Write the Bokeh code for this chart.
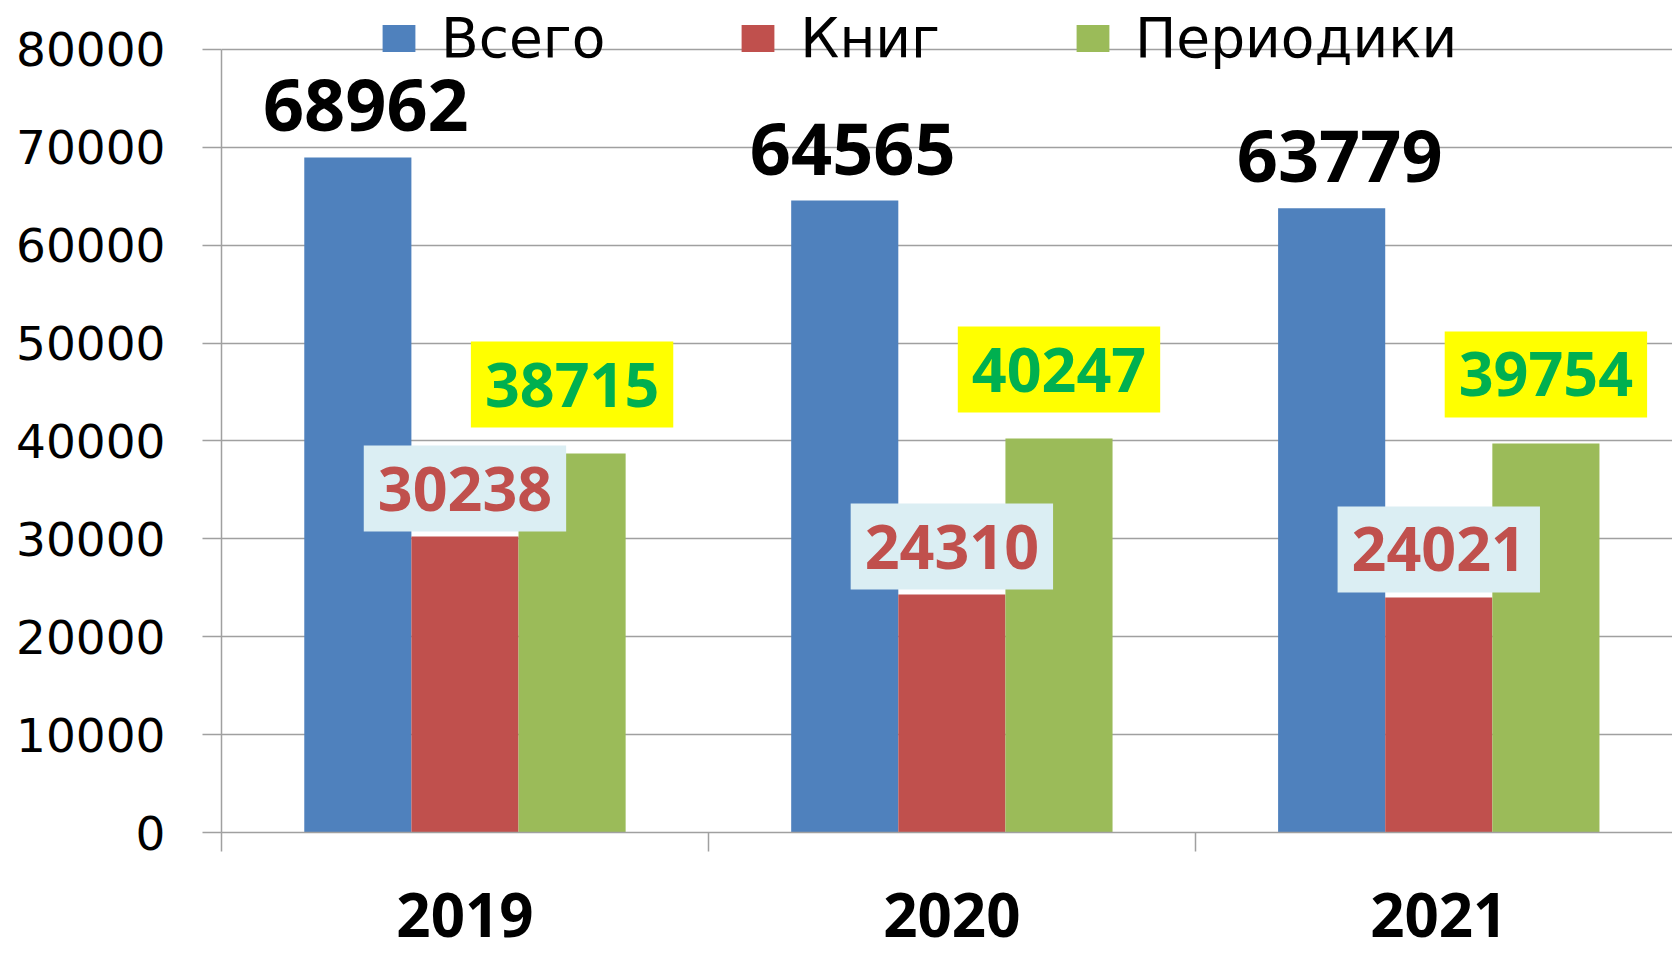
from bokeh.plotting import figure
from bokeh.models import Range1d, FixedTicker, ColumnDataSource, Legend, LegendItem
from bokeh.core.properties import value
from bokeh.embed import file_html
from bokeh.resources import INLINE

years = ["2019", "2020", "2021"]
total = [68962, 64565, 63779]
books = [30238, 24310, 24021]
periodicals = [38715, 40247, 39754]
series_names = ["Всего", "Книг", "Периодики"]
y_ticks = [0, 10000, 20000, 30000, 40000, 50000, 60000, 70000, 80000]

colors = ["#4F81BD", "#C0504D", "#9BBB59"]
GRID = "#A0A0A0"
BAR_W = 0.22

p = figure(width=1672, height=955, output_backend="svg", toolbar_location=None,
           x_range=Range1d(0, 2.98), y_range=Range1d(0, 85000),
           min_border_left=221, min_border_right=0, min_border_top=0,
           min_border_bottom=123)
p.outline_line_color = None
p.xgrid.grid_line_color = None
p.ygrid.grid_line_color = GRID
p.ygrid.grid_line_width = 1.5
p.background_fill_color = "white"
p.border_fill_color = "white"

centers = [i + 0.5 for i in range(len(years))]
src = ColumnDataSource(dict(
    c=centers, year=years, total=total, books=books, per=periodicals,
    xt=[c - BAR_W for c in centers], xb=centers, xp=[c + BAR_W for c in centers],
    lt=[str(v) for v in total], lb=[str(v) for v in books], lp=[str(v) for v in periodicals],
))

r1 = p.vbar(x="xt", top="total", width=BAR_W, source=src, color=colors[0], line_color=None)
r2 = p.vbar(x="xb", top="books", width=BAR_W, source=src, color=colors[1], line_color=None)
r3 = p.vbar(x="xp", top="per", width=BAR_W, source=src, color=colors[2], line_color=None)

p.text(x="xt", y="total", text="lt", source=src, text_font=value("Open Sans"),
       text_font_style="bold", text_font_size="72px", text_color="black",
       text_align="center", text_baseline="middle", x_offset=8, y_offset=-52)
p.text(x="xb", y="books", text="lb", source=src, text_font=value("Open Sans"),
       text_font_style="bold", text_font_size="61px", text_color="#C0504D",
       text_align="center", text_baseline="middle", y_offset=-48,
       background_fill_color="#DBEEF3", padding=(14, 21))
p.text(x="xp", y="per", text="lp", source=src, text_font=value("Open Sans"),
       text_font_style="bold", text_font_size="61px", text_color="#00B050",
       text_align="center", text_baseline="middle", y_offset=-69,
       background_fill_color="#FFFF00", padding=(14, 21))

# y axis
ya = p.yaxis[0]
ya.ticker = FixedTicker(ticks=y_ticks)
ya.bounds = (0, 80000)
ya.axis_line_color = GRID
ya.axis_line_width = 1.5
ya.major_tick_line_color = GRID
ya.major_tick_line_width = 1.5
ya.major_tick_out = 19
ya.major_tick_in = 0
ya.minor_tick_line_color = None
ya.major_label_text_font = "DejaVu Sans"
ya.major_label_text_font_size = "47px"
ya.major_label_text_color = "black"
ya.major_label_standoff = 37
ya.formatter.use_scientific = False

# x axis: year labels at group centres, tick marks at group boundaries
xa = p.xaxis[0]
xa.ticker = FixedTicker(ticks=centers, minor_ticks=list(range(len(years) + 1)))
xa.major_label_overrides = {c: y for c, y in zip(centers, years)}
xa.axis_line_color = GRID
xa.axis_line_width = 1.5
xa.major_tick_line_color = None
xa.major_tick_out = 0
xa.major_tick_in = 0
xa.minor_tick_line_color = GRID
xa.minor_tick_line_width = 1.5
xa.minor_tick_out = 19
xa.minor_tick_in = 0
xa.major_label_text_font = "Open Sans"
xa.major_label_text_font_style = "bold"
xa.major_label_text_font_size = "60px"
xa.major_label_text_color = "black"
xa.major_label_standoff = 41

legend = Legend(items=[LegendItem(label=n, renderers=[r]) for n, r in zip(series_names, [r1, r2, r3])],
                orientation="horizontal", location=(157, 762),
                glyph_width=41, glyph_height=34, label_standoff=22, spacing=132,
                padding=0, margin=0, border_line_color=None, background_fill_alpha=0,
                label_text_font="DejaVu Sans", label_text_font_size="55px",
                label_text_color="black")
p.add_layout(legend, "center")

open("out.html", "w").write(file_html(p, INLINE))
